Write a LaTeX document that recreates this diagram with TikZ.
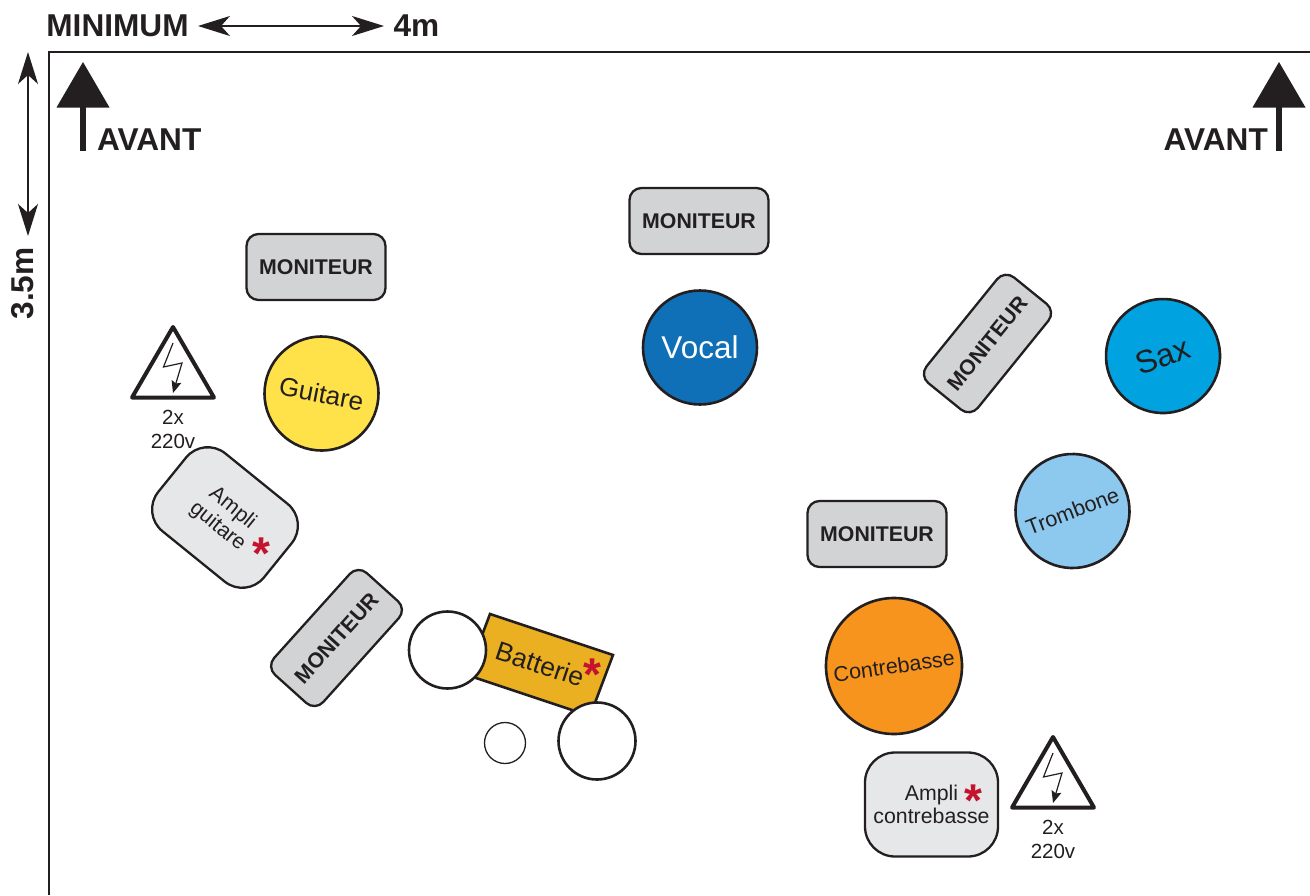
\documentclass[tikz,border=0pt]{standalone}
\usepackage{fontspec}
\setmainfont{Liberation Sans}
\usetikzlibrary{arrows.meta}
\definecolor{ink}{HTML}{231F20}
\definecolor{yel}{HTML}{FFE14A}
\definecolor{voc}{HTML}{0F70B7}
\definecolor{saxc}{HTML}{00A3E0}
\definecolor{tromb}{HTML}{8DC8EE}
\definecolor{cb}{HTML}{F7941D}
\definecolor{mon}{HTML}{D1D3D4}
\definecolor{amp}{HTML}{E6E7E8}
\definecolor{bat}{HTML}{EBB022}
\definecolor{star}{HTML}{C4122F}
\newcommand{\fsz}[1]{\fontsize{#1}{#1}\selectfont}
\tikzset{
  every node/.style={text=ink},
  title/.style={inner sep=0pt,font=\fsz{31.6}\bfseries},
  moniteur/.style={draw=ink,line width=2.3pt,fill=mon,rounded corners=12pt,minimum width=139pt,minimum height=66pt,inner sep=0pt,font=\fsz{21.3}\bfseries},
  player/.style={circle,draw=ink,line width=2.6pt,inner sep=0pt,minimum size=#1},
  drum/.style={circle,draw=ink,line width=2.6pt,fill=white,inner sep=0pt,minimum size=#1},
  ampli/.style={draw=ink,line width=2.3pt,fill=amp,inner sep=0pt,align=center,font=\fontsize{21.3}{23.5}\selectfont},
  etoile/.style={anchor=base,inner sep=0pt,text=star,font=\fsz{46}\bfseries},
  dim/.style={{Stealth[length=32pt,width=20pt,inset=9pt]}-{Stealth[length=32pt,width=20pt,inset=9pt]},draw=ink,line width=2pt},
  bolt/.style={draw=ink,line width=1.2pt,-{Stealth[length=12pt,width=10pt,inset=2pt]}},
  tri/.style={draw=ink,line width=4pt,line join=round,fill=white},
  small/.style={inner sep=0pt,align=center,font=\fontsize{20.5}{23.5}\selectfont}
}
\begin{document}
\begin{tikzpicture}[x=1pt,y=-1pt]
\useasboundingbox (0,0) rectangle (1310,895);
% frame
\coordinate (fb) at (49,895); \coordinate (fc) at (49,52); \coordinate (fr) at (1310,52);
\draw[draw=ink,line width=2.6pt,line join=miter] (fb) -- (fc) -- (fr);
% dimensions
\node[title,anchor=center] (minimum) at (117.5,25.5) {MINIMUM};
\node[title,anchor=center] (fourm) at (416.5,25.5) {4m};
\node[title,anchor=center,rotate=90] (threem) at (23,283.5) {3.5m};
\coordinate (hl) at (198,26); \coordinate (hr) at (384,26);
\coordinate (vt) at (28,52); \coordinate (vb) at (28,236);
\draw[dim] (hl) -- (hr);
\draw[dim] (vt) -- (vb);
% avant arrows
\foreach \n/\x in {l/83,r/1279}{
  \coordinate (st\n) at (\x,151); \coordinate (sm\n) at (\x,100);
  \draw[draw=ink,line width=5.5pt] (st\n) -- (sm\n);
  \fill[ink] (\x,62) -- (\x+26.5,107.5) -- (\x-26.5,107.5) -- cycle;
}
\node[title,anchor=base west] (avl) at (97,150) {AVANT};
\node[title,anchor=base east] (avr) at (1268,150) {AVANT};
% moniteurs
\node[moniteur] (m1) at (316,267) {MONITEUR};
\node[moniteur] (m2) at (699,221) {MONITEUR};
\node[moniteur] (m3) at (877,534) {MONITEUR};
\node[moniteur,rotate=51,minimum width=136pt] (m4) at (987.5,343.5) {MONITEUR};
\node[moniteur,rotate=48,minimum width=137pt] (m5) at (336.5,638) {MONITEUR};
% players
\node[player=114pt,fill=voc,text=white,font=\fsz{31.5}] (vocal) at (700,347.5) {\raisebox{-1.5pt}{Vocal}};
\node[player=114pt,fill=yel,font=\fsz{26},rotate=-11] (guitare) at (321.5,393.5) {Guitare};
\node[player=114pt,fill=saxc,font=\fsz{32},rotate=20] (sax) at (1163,356) {Sax};
\node[player=114pt,fill=tromb,font=\fsz{21.6},rotate=21] (trombone) at (1072.5,511) {Trombone};
\node[player=136pt,fill=cb,font=\fsz{21.5},rotate=8] (contre) at (894,666) {Contrebasse};
% amplis
\node[ampli,rounded corners=28pt,minimum width=136pt,minimum height=100pt,rotate=-39] (ag) at (225,517.5) {Ampli\\guitare};
\node[ampli,rounded corners=30pt,minimum width=133pt,minimum height=104pt] (ac) at (931.5,804.5) {Ampli\\contrebasse};
\node[etoile] (s1) at (261,569) {*};
\node[etoile] (s2) at (973,816) {*};
% batterie
\draw[draw=ink,line width=2.6pt,fill=bat,line join=miter] (490,614) -- (613,655) -- (590,716) -- (467,675) -- cycle;
\node[inner sep=0pt,font=\fsz{26.5},rotate=-18.5] (batt) at (540,664) {Batterie};
\node[etoile] (s3) at (592,690) {*};
\node[drum=77pt] (d1) at (447.5,650) {};
\node[drum=77pt] (d2) at (597,741) {};
\node[circle,draw=ink,line width=1.3pt,fill=white,inner sep=0pt,minimum size=41pt] (d3) at (505,743) {};
% warnings
\foreach \n/\dx/\dy in {a/0/0,b/880/410}{
  \begin{scope}[shift={(\dx,\dy)}]
    \draw[tri] (173,327) -- (214,397.5) -- (132,397.5) -- cycle;
    \coordinate (bs\n) at (173,343);
    \coordinate (bm\n) at (163.5,367);
    \coordinate (bn\n) at (182,363);
    \coordinate (be\n) at (173,393);
    \draw[bolt] (bs\n) -- (bm\n) -- (bn\n) -- (be\n);
    \node[small] (w\n) at (173,429.5) {2x\\220v};
  \end{scope}
}
\end{tikzpicture}
\end{document}
